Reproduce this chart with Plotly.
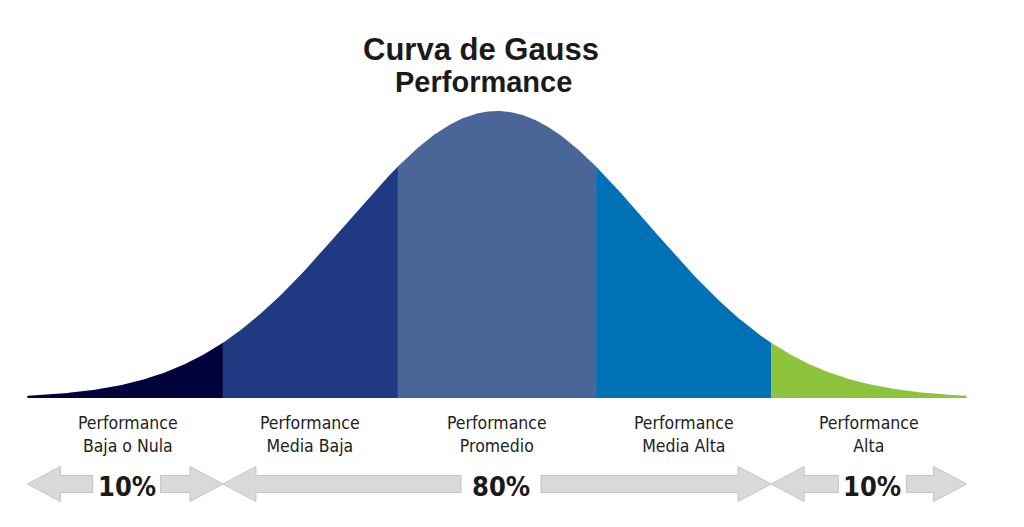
import numpy as np
import plotly.graph_objects as go

# ---- data ----
title_main = "Curva de Gauss"
title_sub = "Performance"
# region boundaries in standard deviations
boundaries = [-3.11, -1.815, -0.656, 0.656, 1.815, 3.11]
region_labels = [
    "Performance<br>Baja o Nula",
    "Performance<br>Media Baja",
    "Performance<br>Promedio",
    "Performance<br>Media Alta",
    "Performance<br>Alta",
]
region_colors = ["#02023c", "#1f3a82", "#4a6597", "#0071b4", "#8cc43d"]
pct_labels = ["10%", "80%", "10%"]
pct_spans = [(-3.11, -1.815), (-1.815, 1.815), (1.815, 3.11)]

# ---- geometry / style ----
PX = 151.0   # pixels per sigma
PY = 287.0   # pixels per unit height
X0, Y0 = 497.0, 398.0
xr = [(0 - X0) / PX, (1024 - X0) / PX]
yr = [-(527 - Y0) / PY, Y0 / PY]

def gauss(x):
    return np.exp(-0.5 * np.asarray(x) ** 2)

fig = go.Figure()

for i, col in enumerate(region_colors):
    a, b = boundaries[i], boundaries[i + 1]
    xs = np.linspace(a, b, 200)
    ys = gauss(xs)
    px_ = np.concatenate([[a], xs, [b]])
    py_ = np.concatenate([[0], ys, [0]])
    fig.add_trace(go.Scatter(x=px_, y=py_, fill="toself", fillcolor=col,
                             mode="lines", line=dict(width=0, color=col),
                             hoverinfo="skip", showlegend=False))

# arrows
arrow_y = (Y0 - 484) / PY
head_len = 33 / PX
head_h = 17.5 / PY
shaft_h = 8.5 / PY
gaps = [34 / PX, 40 / PX, 34 / PX]
pct_offset = [1.5 / PX, 4 / PX, 3.5 / PX]

def arrow(tip, base_end, direction):
    hb = tip - direction * head_len
    xs = [tip, hb, hb, base_end, base_end, hb, hb, tip]
    ys = [arrow_y, arrow_y + head_h, arrow_y + shaft_h, arrow_y + shaft_h,
          arrow_y - shaft_h, arrow_y - shaft_h, arrow_y - head_h, arrow_y]
    return go.Scatter(x=xs, y=ys, fill="toself", fillcolor="#d9d9d9",
                      mode="lines", line=dict(width=1, color="#c4c4c4"),
                      hoverinfo="skip", showlegend=False)

NARROW = "Liberation Sans Narrow, DejaVu Sans Condensed, sans-serif"

for (a, b), lab, g, off in zip(pct_spans, pct_labels, gaps, pct_offset):
    c = (a + b) / 2 + off
    fig.add_trace(arrow(a, c - g, -1))
    fig.add_trace(arrow(b, c + g, 1))
    fig.add_annotation(x=c, y=(Y0 - 486) / PY, text=f"<b>{lab}</b>", showarrow=False,
                       font=dict(family=NARROW, size=27, color="#1a1a1a"),
                       xanchor="center", yanchor="middle")

for i, lab in enumerate(region_labels):
    c = (boundaries[i] + boundaries[i + 1]) / 2 + (3 / PX if i == 0 else 0)
    fig.add_annotation(x=c, y=(Y0 - 434) / PY, text=lab, showarrow=False,
                       font=dict(family=NARROW, size=17.5, color="#222222"),
                       xanchor="center", yanchor="middle")

fig.add_annotation(x=(481 - X0) / PX, y=(Y0 - 49) / PY, text=f"<b>{title_main}</b>",
                   showarrow=False, font=dict(family="Liberation Sans, Arial", size=31, color="#1a1a1a"),
                   xanchor="center", yanchor="middle")
fig.add_annotation(x=(483 - X0) / PX, y=(Y0 - 82) / PY, text=f"<b>{title_sub}</b>",
                   showarrow=False, font=dict(family="Liberation Sans, Arial", size=29, color="#1a1a1a"),
                   xanchor="center", yanchor="middle")

fig.update_layout(
    width=1024, height=527,
    margin=dict(l=0, r=0, t=0, b=0),
    paper_bgcolor="white", plot_bgcolor="white",
    xaxis=dict(range=xr, visible=False, fixedrange=True),
    yaxis=dict(range=yr, visible=False, fixedrange=True),
    showlegend=False,
)

fig.write_html("out.html", config={"displayModeBar": False},
               post_script="document.body.style.margin='0';document.body.style.padding='0';")
